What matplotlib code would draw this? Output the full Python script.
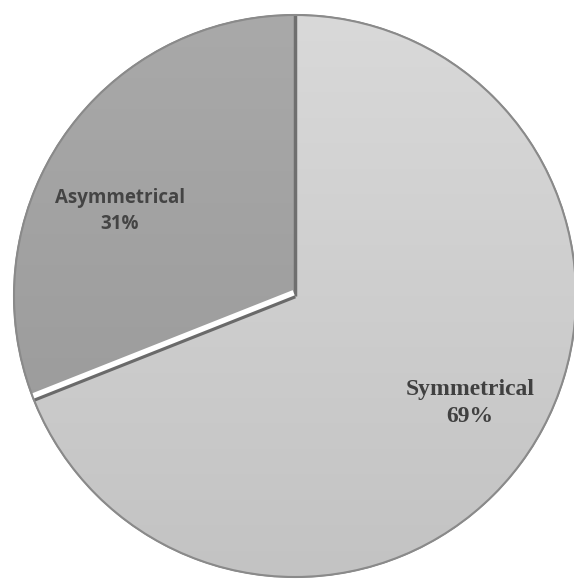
import matplotlib.pyplot as plt
import numpy as np

labels = ["Symmetrical", "Asymmetrical"]
shares = [69, 31]
colors = ["#cdcdcd", "#9f9f9f"]

fig = plt.figure(figsize=(5.74, 5.79), dpi=100)
ax = fig.add_axes([0, 0, 1, 1])

cx, cy, r = 295, 283, 281

wedges, _ = ax.pie(
    shares,
    colors=colors,
    startangle=90,
    counterclock=False,
    center=(cx, cy),
    radius=r,
    frame=True,
    wedgeprops=dict(edgecolor="#7a7a7a", linewidth=1.2),
)
ax.set_xlim(0, 574)
ax.set_ylim(0, 579)
ax.set_aspect("equal")
ax.axis("off")

# soft vertical shading inside each slice
grad = np.linspace(0, 1, 256).reshape(-1, 1)
for w, top, bottom in zip(wedges, ["#d9d9d9", "#a9a9a9"], ["#c3c3c3", "#979797"]):
    c1 = np.array(plt.matplotlib.colors.to_rgb(top))
    c2 = np.array(plt.matplotlib.colors.to_rgb(bottom))
    img = c2 + (c1 - c2) * grad[..., None]
    im = ax.imshow(img, extent=[cx - r, cx + r, cy - r, cy + r],
                   origin="lower", aspect="auto", zorder=1.5)
    im.set_clip_path(w)

# darker seam along the vertical edge
a0 = np.deg2rad(wedges[1].theta1)
ax.plot([cx, cx + r * np.cos(a0)], [cy, cy + r * np.sin(a0)],
        color="#6f6f6f", lw=2.5, zorder=3, solid_capstyle="butt")

# white gap along the lower edge of the small slice
a = np.deg2rad(wedges[1].theta2)
ex, ey = cx + r * np.cos(a), cy + r * np.sin(a)
ax.plot([cx, ex], [cy, ey], color="#6a6a6a", lw=3.5, zorder=3, solid_capstyle="butt")
nx, ny = np.sin(a), -np.cos(a)
off = 3.5
ax.plot([cx + off * nx, ex + off * nx], [cy + off * ny, ey + off * ny],
        color="white", lw=4, zorder=3.5, solid_capstyle="butt")

# outer rim
ax.add_patch(plt.Circle((cx, cy), r, fill=False, ec="#8a8a8a", lw=1.5, zorder=4))

ax.text(120, 579 - 211, "Asymmetrical\n31%", ha="center", va="center",
        family="Open Sans", fontweight="bold", fontsize=13.5, color="#444444",
        linespacing=1.45, zorder=5)
ax.text(470, 579 - 403, "Symmetrical\n69%", ha="center", va="center",
        family="Liberation Serif", fontweight="bold", fontsize=17, color="#404040",
        linespacing=1.35, zorder=5)

fig.savefig("out.png", dpi=100)
